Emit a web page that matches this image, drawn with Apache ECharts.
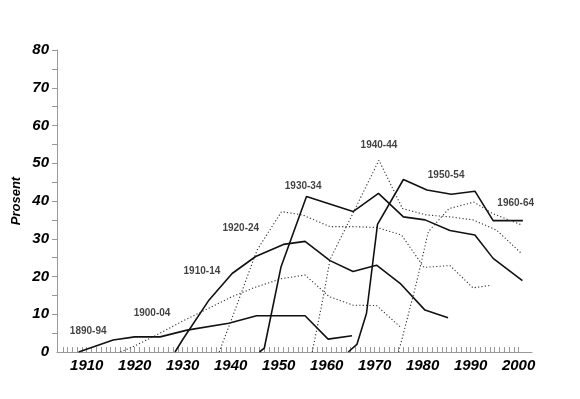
<!DOCTYPE html>
<html lang="no">
<head>
<meta charset="UTF-8">
<title>Prosent etter fødselskull</title>
<script src="https://cdn.jsdelivr.net/npm/echarts@6/dist/echarts.min.js"></script>
</head>
<body style="margin:0;background:#fff">
<div id="container" style="width:580px;height:399px"></div>
<script>
// fødselskull og kurvene deres, [år, prosent]
var cohorts = ['1890-94', '1900-04', '1910-14', '1920-24', '1930-34', '1940-44', '1950-54', '1960-64'];

var k1890 = [[1908.3, 0], [1915.5, 3.2], [1920, 4], [1925.3, 4], [1930.9, 5.8], [1939.6, 7.6], [1945.4, 9.6], [1955.5, 9.6], [1960.3, 3.4], [1965.3, 4.3]];
var k1900 = [[1917, 0], [1920, 1.6], [1925, 4.8], [1930, 8.2], [1935, 11.3], [1940, 14.5], [1945, 17.1], [1950.5, 19.4], [1955.5, 20.4], [1960.5, 14.7], [1965.5, 12.4], [1970.4, 12.3], [1975.3, 6.7]];
var k1910 = [[1928.4, 0], [1930, 3.3], [1935.5, 13.8], [1940.3, 20.8], [1945.2, 25.3], [1951, 28.5], [1955.5, 29.3], [1960.7, 24.2], [1965.5, 21.3], [1970.4, 23], [1975.3, 18.2], [1980.5, 11.1], [1985.3, 9.1]];
var k1920 = [[1937.6, 0], [1940, 8], [1945.5, 27], [1950.6, 37.2], [1955, 36.3], [1960.7, 33.2], [1965.5, 33.2], [1970.4, 33], [1975.6, 31], [1980.3, 22.4], [1985.7, 22.9], [1990.5, 17], [1994.4, 17.7]];
var k1930 = [[1946, 0], [1947, 1], [1950.5, 22.6], [1955.8, 41.2], [1965.5, 37.2], [1970.8, 42], [1976, 35.8], [1980.5, 35], [1985.7, 32.2], [1990.9, 31], [1994.7, 24.8], [2000.8, 18.9]];
var k1940 = [[1957, 0], [1959.3, 14.6], [1960.7, 24.5], [1965, 35.5], [1970.9, 50.8], [1975.8, 38], [1980.8, 36.3], [1985.7, 35.8], [1990.5, 35], [1995.4, 32.3], [2000.6, 26.1]];
var k1950 = [[1964.5, 0], [1966.3, 2], [1968.3, 10.2], [1970.6, 33.8], [1976, 45.7], [1980.9, 42.9], [1986, 41.8], [1990.9, 42.6], [1994.7, 34.8], [2000.9, 34.8]];
var k1960 = [[1975, 0], [1978.7, 18.2], [1981.2, 31.9], [1985.5, 38], [1990.7, 39.7], [1994.7, 36.6], [2000.8, 33.6]];

var curves = [k1890, k1900, k1910, k1920, k1930, k1940, k1950, k1960];

// hvor navnet på kullet står, [år, prosent]
var labelAt = [[1910.3, 5.6], [1923.6, 10.3], [1934, 21.5], [1942.1, 32.8], [1955.1, 44], [1970.9, 54.8], [1984.9, 46.9], [1999.4, 39.5]];

// akseetiketter
var xLabels = [1910, 1920, 1930, 1940, 1950, 1960, 1970, 1980, 1990, 2000];
var yLabels = [0, 10, 20, 30, 40, 50, 60, 70, 80];
var yTicks = [5, 10, 15, 20, 25, 30, 35, 40, 45, 50, 55, 60, 65, 70, 75, 80];
var xTicks = [];
for (var y = 1905; y <= 2000; y++) xTicks.push(y);

var myChart = echarts.init(document.getElementById('container'));

var font = '"Liberation Sans", Arial, Helvetica, sans-serif';

var series = curves.map(function (d, i) {
    var solid = i % 2 === 0;
    return {
        name: cohorts[i],
        type: 'line',
        data: d,
        symbol: 'none',
        silent: true,
        lineStyle: solid
            ? { color: '#111', width: 1.6 }
            : { color: '#333', width: 1.1, type: [1.2, 2.2] }
    };
});

// navnene på kullene
series.push({
    type: 'scatter',
    symbolSize: 0,
    silent: true,
    data: labelAt.map(function (p, i) { return [p[0], p[1], cohorts[i]]; }),
    label: {
        show: true,
        position: 'inside',
        formatter: function (p) { return p.data[2]; },
        color: '#111',
        fontFamily: font,
        fontWeight: 'bold',
        fontSize: 10
    }
});

myChart.setOption({
    animation: false,
    backgroundColor: '#fff',
    grid: { left: 57, right: 48, top: 50, bottom: 47 },
    xAxis: {
        type: 'value',
        min: 1903.8,
        max: 2002.8,
        axisLine: { lineStyle: { color: '#999', width: 1 } },
        axisTick: { inside: true, length: 5, customValues: xTicks, lineStyle: { color: '#999' } },
        axisLabel: {
            customValues: xLabels,
            formatter: function (v) { return String(v); },
            margin: 6,
            color: '#000',
            fontFamily: font,
            fontStyle: 'italic',
            fontWeight: 'bold',
            fontSize: 15
        },
        splitLine: { show: false }
    },
    yAxis: {
        type: 'value',
        min: 0,
        max: 80,
        name: 'Prosent',
        nameLocation: 'middle',
        nameGap: 34,
        nameMoveOverlap: false,
        nameTextStyle: {
            color: '#000',
            fontFamily: font,
            fontStyle: 'italic',
            fontWeight: 'bold',
            fontSize: 13
        },
        axisLine: { show: true, lineStyle: { color: '#999', width: 1 } },
        axisTick: { show: true, length: 5, customValues: yTicks, lineStyle: { color: '#999' } },
        axisLabel: {
            customValues: yLabels,
            margin: 8,
            color: '#000',
            fontFamily: font,
            fontStyle: 'italic',
            fontWeight: 'bold',
            fontSize: 15
        },
        splitLine: { show: false }
    },
    series: series
});
</script>
</body>
</html>
